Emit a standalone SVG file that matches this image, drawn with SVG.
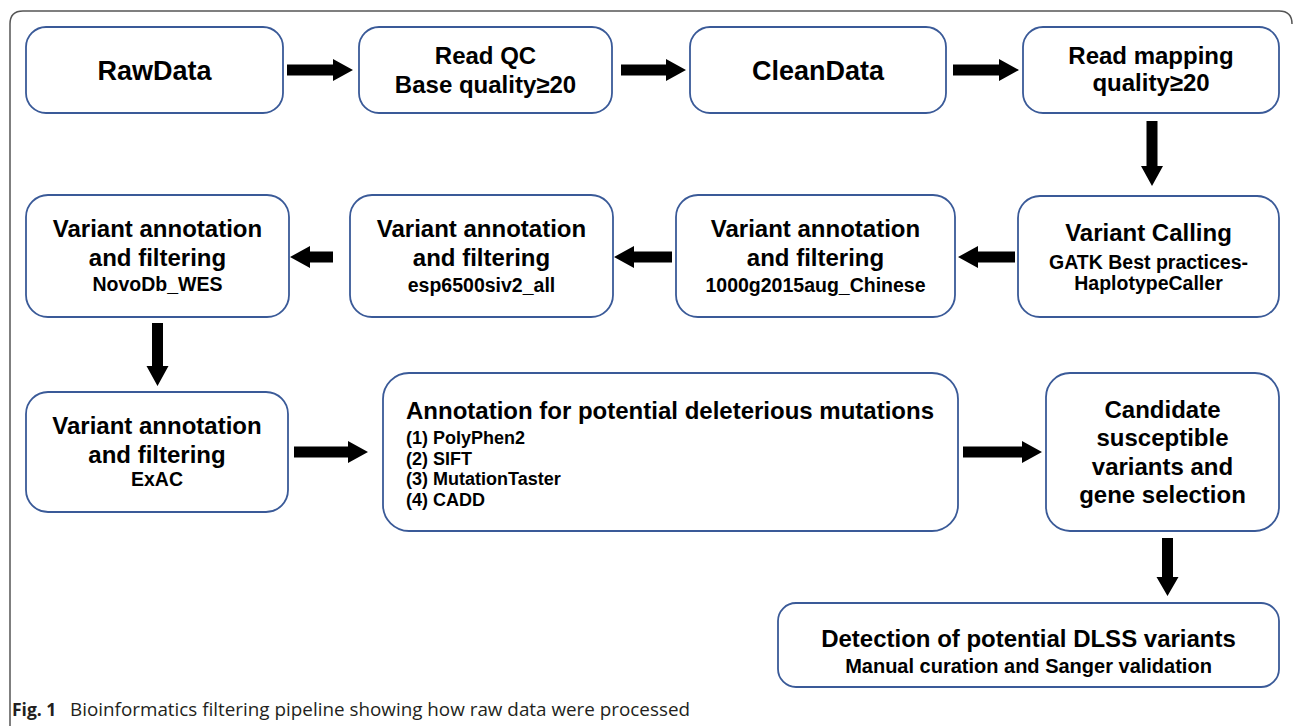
<svg xmlns="http://www.w3.org/2000/svg" width="1293" height="726" viewBox="0 0 1293 726">
<style>
.box{fill:#fff;stroke:#3a5a98;stroke-width:1.8}
.t{font-family:"Liberation Sans",Arial,sans-serif;font-weight:bold;fill:#000;text-anchor:middle}
.big{font-size:27px}
.h{font-size:24px}
.s{font-size:19.5px}
.l{font-family:"Liberation Sans",Arial,sans-serif;font-weight:bold;font-size:18px;fill:#000}
.arr{fill:#000}
</style>
<rect width="1293" height="726" fill="#fff"/>
<path d="M10,726 V24 Q10,11 23,11 H1279 Q1292,11 1292,24" fill="none" stroke="#555" stroke-width="1.5"/>

<g id="rawdata"><rect class="box" x="26" y="27" width="257" height="86" rx="20"/>
<text class="t big" x="154.5" y="80">RawData</text></g>

<g id="readqc"><rect class="box" x="359" y="27" width="253" height="86" rx="20"/>
<text class="t h" x="485.5" y="64">Read QC</text>
<text class="t h" x="485.5" y="93">Base quality≥20</text></g>

<g id="cleandata"><rect class="box" x="690" y="27" width="256" height="86" rx="20"/>
<text class="t big" x="818" y="80">CleanData</text></g>

<g id="readmapping"><rect class="box" x="1023" y="27" width="256" height="86" rx="20"/>
<text class="t h" x="1151" y="64">Read mapping</text>
<text class="t h" x="1151" y="91">quality≥20</text></g>

<g id="variantcalling"><rect class="box" x="1018" y="196" width="261" height="121" rx="22"/>
<text class="t h" x="1148.5" y="241">Variant Calling</text>
<text class="t s" x="1148.5" y="269">GATK Best practices-</text>
<text class="t s" x="1148.5" y="290">HaplotypeCaller</text></g>

<g id="chinese1000g"><rect class="box" x="676" y="195" width="279" height="122" rx="22"/>
<text class="t h" x="815.5" y="237">Variant annotation</text>
<text class="t h" x="815.5" y="266">and filtering</text>
<text class="t s" x="815.5" y="292">1000g2015aug_Chinese</text></g>

<g id="esp6500"><rect class="box" x="350" y="195" width="263" height="122" rx="22"/>
<text class="t h" x="481.5" y="237">Variant annotation</text>
<text class="t h" x="481.5" y="266">and filtering</text>
<text class="t s" x="481.5" y="292">esp6500siv2_all</text></g>

<g id="novodb"><rect class="box" x="26" y="195" width="263" height="122" rx="22"/>
<text class="t h" x="157.5" y="237">Variant annotation</text>
<text class="t h" x="157.5" y="266">and filtering</text>
<text class="t s" x="157.5" y="291">NovoDb_WES</text></g>

<g id="exac"><rect class="box" x="26" y="392" width="262" height="120" rx="22"/>
<text class="t h" x="157" y="434">Variant annotation</text>
<text class="t h" x="157" y="463">and filtering</text>
<text class="t s" x="157" y="486">ExAC</text></g>

<g id="annotation"><rect class="box" x="383" y="373" width="575" height="158" rx="26"/>
<text class="t h" x="406" y="419" style="text-anchor:start">Annotation for potential deleterious mutations</text>
<text class="l" x="406" y="444">(1) PolyPhen2</text>
<text class="l" x="406" y="465">(2) SIFT</text>
<text class="l" x="406" y="485">(3) MutationTaster</text>
<text class="l" x="406" y="506">(4) CADD</text></g>

<g id="candidate"><rect class="box" x="1046" y="373" width="233" height="158" rx="24"/>
<text class="t h" x="1162.5" y="418">Candidate</text>
<text class="t h" x="1162.5" y="446">susceptible</text>
<text class="t h" x="1162.5" y="475">variants and</text>
<text class="t h" x="1162.5" y="503">gene selection</text></g>

<g id="detection"><rect class="box" x="778" y="603" width="501" height="84" rx="18"/>
<text class="t h" x="1028.5" y="647">Detection of potential DLSS variants</text>
<text class="t" x="1028.5" y="673" style="font-size:20px">Manual curation and Sanger validation</text></g>

<g id="connectors" class="arr">
<polygon points="287,64.5 333,64.5 333,59 353,70 333,81 333,75.5 287,75.5"/>
<polygon points="621,64.5 666,64.5 666,59 686,70 666,81 666,75.5 621,75.5"/>
<polygon points="953,64.5 999,64.5 999,59 1019,70 999,81 999,75.5 953,75.5"/>
<polygon points="1146.5,121 1157.5,121 1157.5,166 1163,166 1152,186 1141,166 1146.5,166"/>
<polygon points="1015,251.5 978,251.5 978,246 958,257 978,268 978,262.5 1015,262.5"/>
<polygon points="672,251.5 634,251.5 634,246 614,257 634,268 634,262.5 672,262.5"/>
<polygon points="333,251.5 310,251.5 310,246 290,257 310,268 310,262.5 333,262.5"/>
<polygon points="152,323 163,323 163,366 168.5,366 157.5,386 146.5,366 152,366"/>
<polygon points="294,446.5 348,446.5 348,441 368,452 348,463 348,457.5 294,457.5"/>
<polygon points="963,446.5 1022,446.5 1022,441 1042,452 1022,463 1022,457.5 963,457.5"/>
<polygon points="1162,538 1173,538 1173,577 1178.5,577 1167.5,596 1156.5,577 1162,577"/>
</g>

<g id="caption"><text x="12" y="716" style="font-family:'Open Sans','Liberation Sans',sans-serif;font-size:17.5px;fill:#231f20"><tspan font-weight="bold">Fig. 1</tspan><tspan x="70" textLength="620" lengthAdjust="spacingAndGlyphs">Bioinformatics filtering pipeline showing how raw data were processed</tspan></text></g>
</svg>
